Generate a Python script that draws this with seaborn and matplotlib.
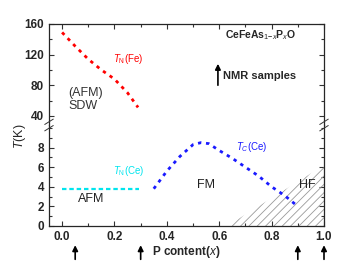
import seaborn as sns
import matplotlib.pyplot as plt
import matplotlib.ticker as mticker
import pandas as pd

# T_N(Fe) boundary, upper panel (K)
fe_x = [0.0, 0.05, 0.10, 0.15, 0.20, 0.25, 0.29]
fe_t = [149, 131, 114, 100, 88, 70, 51]

# T_N(Ce) boundary, lower panel (K)
ce_afm_x = [0.0, 0.295]
ce_afm_t = [3.8, 3.8]

# T_C(Ce) boundary, lower panel (K)
ce_fm_x = [0.35, 0.40, 0.45, 0.50, 0.53, 0.56, 0.60, 0.65, 0.70, 0.75, 0.80, 0.85, 0.90]
ce_fm_t = [3.8, 5.6, 7.1, 8.3, 8.5, 8.4, 7.7, 6.9, 6.0, 5.1, 4.0, 3.1, 2.0]

# heavy-fermion region edge
hf_x = [0.63, 1.0]
hf_t = [0.0, 6.2]

# P content of the NMR samples
nmr_x = [0.05, 0.30, 0.90, 1.00]

x_ticks = [0.0, 0.2, 0.4, 0.6, 0.8, 1.0]
top_ticks = [40, 80, 120, 160]
bot_ticks = [0, 2, 4, 6, 8]


def main():
    sns.set_style("ticks")
    plt.rcParams['font.family'] = ['Liberation Sans', 'DejaVu Sans']
    plt.rcParams['mathtext.fontset'] = 'custom'
    plt.rcParams['mathtext.rm'] = 'Liberation Sans'
    plt.rcParams['mathtext.it'] = 'Liberation Sans:italic'
    plt.rcParams['mathtext.bf'] = 'Liberation Sans:bold'
    plt.rcParams['hatch.color'] = '#999999'
    plt.rcParams['hatch.linewidth'] = 0.6

    fig = plt.figure(figsize=(3.56, 2.67), dpi=100)
    left, right = 49 / 356, 324 / 356
    y_top, y_brk, y_bot = 1 - 24 / 267, 1 - 125 / 267, 1 - 226 / 267
    ax_t = fig.add_axes([left, y_brk, right - left, y_top - y_brk])
    ax_b = fig.add_axes([left, y_bot, right - left, y_brk - y_bot])

    fe = pd.DataFrame({'x': fe_x, 't': fe_t})
    sns.lineplot(data=fe, x='x', y='t', ax=ax_t, color='#ff0000', lw=2.0,
                 linestyle=(0, (1.2, 1.7)))

    afm = pd.DataFrame({'x': ce_afm_x, 't': ce_afm_t})
    sns.lineplot(data=afm, x='x', y='t', ax=ax_b, color='#00e5ee', lw=1.6,
                 linestyle=(0, (2.0, 1.3)))
    fm = pd.DataFrame({'x': ce_fm_x, 't': ce_fm_t})
    sns.lineplot(data=fm, x='x', y='t', ax=ax_b, color='#1a1aff', lw=2.0,
                 linestyle=(0, (1.2, 1.7)), zorder=3)

    ax_b.fill_between(hf_x, hf_t, 0, facecolor='none', edgecolor='#999999',
                      hatch='////', lw=0, zorder=1)

    for ax in (ax_t, ax_b):
        ax.set_xlim(-0.05, 1.0)
        ax.set_xlabel('')
        ax.set_ylabel('')
        ax.tick_params(direction='in', which='both', top=True, right=True,
                       labelsize=8.5, width=0.8, color='#333333')
        ax.tick_params(which='major', length=3.5)
        ax.tick_params(which='minor', length=2)
        ax.xaxis.set_minor_locator(mticker.MultipleLocator(0.1))
        for s in ax.spines.values():
            s.set_linewidth(0.9)

    ax_t.set_ylim(28, 160)
    ax_t.set_yticks(top_ticks)
    ax_t.yaxis.set_minor_locator(mticker.MultipleLocator(20))
    ax_t.set_yticklabels([str(v) for v in top_ticks], fontweight='bold')
    ax_t.set_xticks(x_ticks)
    ax_t.tick_params(axis='x', bottom=False, which='both', labelbottom=False)
    ax_t.spines['bottom'].set_visible(False)

    ax_b.set_ylim(0, 10.3)
    ax_b.set_yticks(bot_ticks)
    ax_b.yaxis.set_minor_locator(mticker.MultipleLocator(1))
    ax_b.set_yticklabels([str(v) for v in bot_ticks], fontweight='bold')
    ax_b.set_xticks(x_ticks)
    ax_b.set_xticklabels([f'{v:.1f}' for v in x_ticks], fontweight='bold')
    ax_b.tick_params(axis='x', top=False, which='both')
    ax_b.spines['top'].set_visible(False)

    # break marks on the spines
    for xa in (0, 1):
        for dy in (-0.012, 0.012):
            fig.lines.append(plt.Line2D(
                [left + (right - left) * xa - 0.012, left + (right - left) * xa + 0.012],
                [y_brk + dy - 0.01, y_brk + dy + 0.01],
                transform=fig.transFigure, color='#333333', lw=0.7))

    # labels in the upper panel
    ax_t.text(0.195, 114, r'$T_{\rm N}$(Fe)', color='#ff0000', fontsize=7,
              va='center', ha='left')
    ax_t.text(0.025, 61, '(AFM)\nSDW', color='#333333', fontsize=9,
              va='center', ha='left', linespacing=1.1)
    ax_t.text(0.622, 146, r'CeFeAs$_{1\mathregular{-}x}$P$_x$O', fontsize=7.5,
              fontweight='bold', va='center', ha='left')
    ax_t.annotate('', xy=(0.595, 108), xytext=(0.595, 80),
                  arrowprops=dict(arrowstyle='-|>', color='k', lw=1.2,
                                  mutation_scale=8, shrinkA=0, shrinkB=0))
    ax_t.text(0.613, 92, 'NMR samples', fontsize=8, fontweight='bold',
              va='center', ha='left')

    # labels in the lower panel
    ax_b.text(0.195, 5.6, r"$T_{\rm N}$(Ce)", color='#00e5ee', fontsize=7,
              va='center', ha='left')
    ax_b.text(0.06, 2.8, 'AFM', color='#222222', fontsize=9,
              va='center', ha='left')
    ax_b.text(0.665, 8.1, r"$T_{C}$(Ce)", color='#1a1aff', fontsize=7,
              va='center', ha='left')
    ax_b.text(0.55, 4.2, 'FM', color='#222222', fontsize=9,
              va='center', ha='center')
    ax_b.text(0.935, 4.2, 'HF', color='#222222', fontsize=9,
              va='center', ha='center')

    for xv in nmr_x:
        ax_b.annotate('', xy=(xv, -0.19), xytext=(xv, -0.33),
                      xycoords=('data', 'axes fraction'),
                      textcoords=('data', 'axes fraction'),
                      arrowprops=dict(arrowstyle='-|>', color='k', lw=1.2,
                                      mutation_scale=8, shrinkA=0, shrinkB=0),
                      annotation_clip=False)

    fig.text(186 / 356, 1 - 252 / 267, r'P content($x$)', fontsize=8.5,
             fontweight='bold', ha='center', va='center')
    fig.text(20 / 356, 1 - 136 / 267, r'$T$(K)', fontsize=9, rotation=90,
             ha='center', va='center')

    plt.savefig('out.png', dpi=100)


if __name__ == "__main__":
    main()
